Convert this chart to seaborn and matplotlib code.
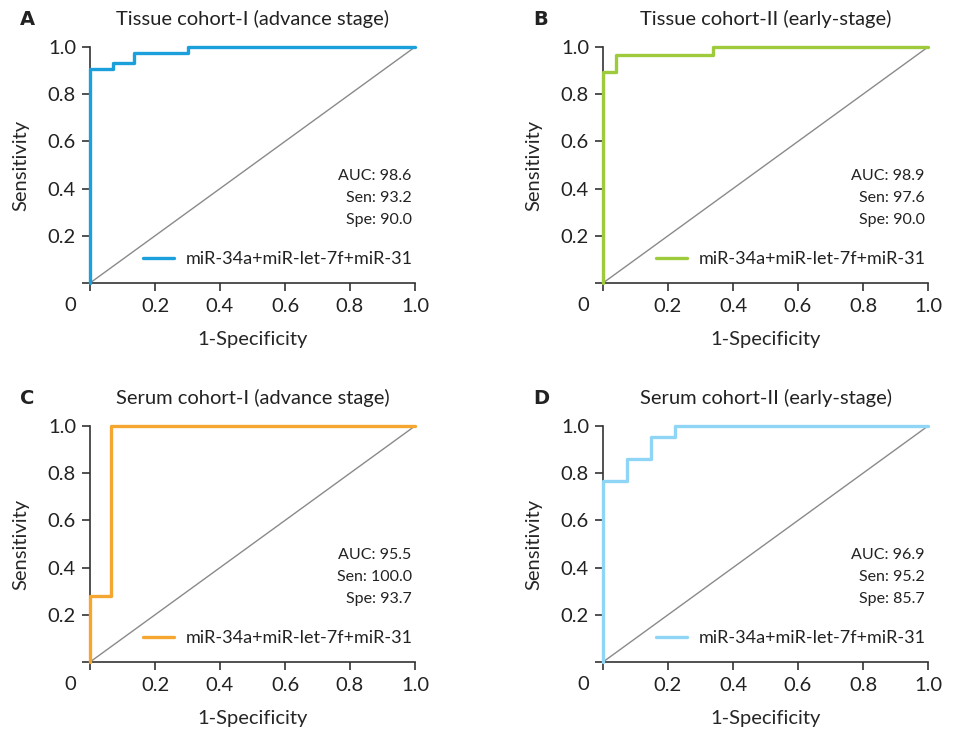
import numpy as np
import pandas as pd
import seaborn as sns
import matplotlib.pyplot as plt

# ROC points (steps-post style)
fpr_a = [0.0, 0.0, 0.07, 0.135, 0.30, 1.0]
tpr_a = [0.0, 0.905, 0.932, 0.975, 1.0, 1.0]
fpr_b = [0.0, 0.0, 0.04, 0.337, 1.0]
tpr_b = [0.0, 0.893, 0.966, 1.0, 1.0]
fpr_c = [0.0, 0.0, 0.064, 1.0]
tpr_c = [0.0, 0.28, 1.0, 1.0]
fpr_d = [0.0, 0.0, 0.075, 0.147, 0.22, 1.0]
tpr_d = [0.0, 0.767, 0.86, 0.952, 1.0, 1.0]

titles = ['Tissue cohort-I (advance stage)', 'Tissue cohort-II (early-stage)',
          'Serum cohort-I (advance stage)', 'Serum cohort-II (early-stage)']
letters = ['A', 'B', 'C', 'D']
auc = ['98.6', '98.9', '95.5', '96.9']
sen = ['93.2', '97.6', '100.0', '95.2']
spe = ['90.0', '90.0', '93.7', '85.7']
colors = ['#1ba0dc', '#9dcb3b', '#f5a631', '#8fd6f6']
label = 'miR-34a+miR-let-7f+miR-31'
ticks = [0, 0.2, 0.4, 0.6, 0.8, 1.0]
ticklabels = ['', '0.2', '0.4', '0.6', '0.8', '1.0']

sns.set_style('white')
plt.rcParams['font.family'] = ['Lato', 'DejaVu Sans']
plt.rcParams['text.color'] = '#222222'

fig = plt.figure(figsize=(9.57, 7.31), dpi=100)
W, H = 957, 731
boxes = [(90, 47), (603, 47), (90, 426), (603, 426)]
curves = [(fpr_a, tpr_a), (fpr_b, tpr_b), (fpr_c, tpr_c), (fpr_d, tpr_d)]

for i in range(4):
    x0, y0 = boxes[i]
    ax = fig.add_axes([x0 / W, 1 - (y0 + 236) / H, 325 / W, 236 / H])
    fx, ty = curves[i]
    df = pd.DataFrame({'fpr': fx, 'tpr': ty})
    ax.plot([0, 1], [0, 1], color='#8a8a8a', lw=1.0, zorder=1)
    sns.lineplot(data=df, x='fpr', y='tpr', ax=ax, color=colors[i], lw=2.4,
                 sort=False, estimator=None, drawstyle='steps-post',
                 label=label, clip_on=False, zorder=3)
    ax.set_xlim(0, 1)
    ax.set_ylim(0, 1)
    sns.despine(ax=ax)
    for s in ['left', 'bottom']:
        ax.spines[s].set_color('#333333')
        ax.spines[s].set_linewidth(1.2)
    ax.set_xticks(ticks)
    ax.set_xticklabels(ticklabels)
    ax.set_yticks(ticks)
    ax.set_yticklabels(ticklabels)
    ax.tick_params(bottom=True, left=True, direction='out', length=6,
                   width=1.2, color='#333333', labelsize=14.5, pad=4,
                   labelcolor='#222222')
    ax.tick_params(axis='x', pad=5)
    ax.set_xlabel('1-Specificity', fontsize=14.5, labelpad=11)
    ax.set_ylabel('Sensitivity', fontsize=14.5, labelpad=13)
    ax.text(-0.06, -0.095, '0', transform=ax.transAxes, fontsize=14.5,
            ha='center', va='center')
    ax.set_title(titles[i], fontsize=14.5, pad=16)
    ax.text(-0.215, 1.115, letters[i], transform=ax.transAxes, fontsize=14,
            fontweight='bold', family='DejaVu Sans', va='center', ha='left')
    ax.text(0.99, 0.36, f'AUC: {auc[i]}\nSen: {sen[i]}\nSpe: {spe[i]}',
            transform=ax.transAxes, fontsize=11.5, ha='right', va='center',
            linespacing=1.75)
    leg = ax.legend(loc='lower right', frameon=False, fontsize=13,
                    handlelength=1.75, handletextpad=0.6, borderaxespad=0.2,
                    bbox_to_anchor=(1.025, 0.02))
    for h in leg.get_lines():
        h.set_linewidth(2.4)

fig.savefig('out.png', dpi=100)
